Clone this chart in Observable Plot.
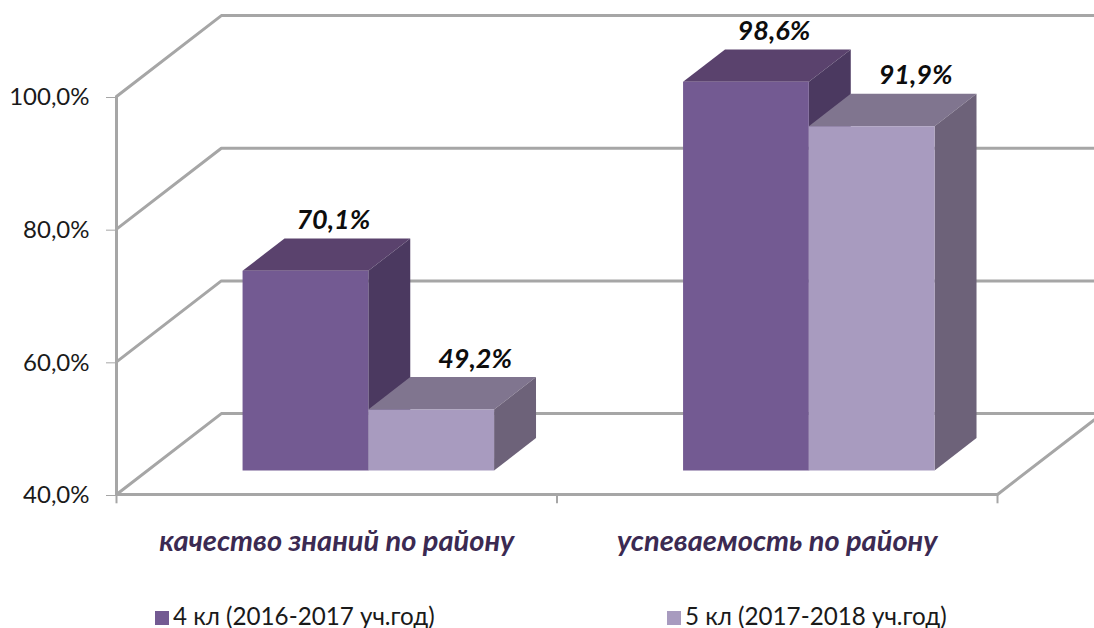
<!DOCTYPE html>
<html><head><meta charset="utf-8">
<script src="https://cdn.jsdelivr.net/npm/d3@7"></script>
<script src="https://cdn.jsdelivr.net/npm/@observablehq/plot@0.6"></script>
<style>
html,body{margin:0;padding:0;background:#fff;overflow:hidden}
#chart svg{display:block;overflow:visible}
#legend{position:relative;height:38px;font:24.2px Lato,sans-serif;color:#1a1a1a}
.k{position:absolute;top:12px;white-space:nowrap;line-height:28px}
.k i{display:inline-block;width:14px;height:14px;margin-right:4px;vertical-align:0}
</style></head><body>
<div id="chart"></div><div id="legend"></div>
<script>
const categories = ["качество знаний по району", "успеваемость по району"];
const seriesNames = ["4 кл (2016-2017 уч.год)", "5 кл (2017-2018 уч.год)"];
const values4 = [70.1, 98.6];
const values5 = [49.2, 91.9];
const yTicks = [40, 60, 80, 100];
const xEdges = [0, 1, 2];
const faceColors = [
  {front:"#735a92", top:"#5a426d", side:"#4b3960"},
  {front:"#a89bbf", top:"#80758f", side:"#6d6279"}
];

// oblique projection: depth 0 = front of chart box, 1 = back wall
const depthX = 0.238, depthY = 12.2;
const proj = (x, v, d) => ({x: x + d * depthX, y: v + d * depthY});
const xMax = 2.22;

const grid = [];
yTicks.forEach(t => {
  grid.push({t, ...proj(0, t, 0)}, {t, ...proj(0, t, 1)}, {t, x: xMax, y: t + depthY});
});
const floorRight = [proj(2, 40, 0), proj(2, 40, (xMax - 2) / depthX)];

const dNear = 0.297, dFar = 0.697;
const barW = 0.2855;
const bars = [];
categories.forEach((c, i) => {
  const start = i + 0.2155;
  [values4[i], values5[i]].forEach((v, s) => bars.push({c, s, v, x0: start + s * barW, x1: start + (s + 1) * barW}));
});
const poly = [];
bars.forEach((b, i) => {
  const col = faceColors[b.s];
  const top = [proj(b.x0, b.v, dNear), proj(b.x1, b.v, dNear), proj(b.x1, b.v, dFar), proj(b.x0, b.v, dFar)];
  const side = [proj(b.x1, b.v, dNear), proj(b.x1, 40, dNear), proj(b.x1, 40, dFar), proj(b.x1, b.v, dFar)];
  top.forEach(p => poly.push({...p, id: i + "t", fill: col.top}));
  side.forEach(p => poly.push({...p, id: i + "s", fill: col.side}));
  const fr = [proj(b.x0, b.v, dNear), proj(b.x1, b.v, dNear), proj(b.x1, 40, dNear), proj(b.x0, 40, dNear)];
  fr.forEach(p => poly.push({...p, id: i + "f", fill: col.front}));
});
const labels = bars.map(b => {
  const p = proj((b.x0 + b.x1) / 2, b.v, dFar);
  return {...p, s: b.s, text: b.v.toFixed(1).replace(".", ",") + "%"};
});
const labelStyle = {text: "text", dy: -18, fontSize: 27, fontWeight: "bold", fontStyle: "italic", fill: "#0d0d0d"};

const gray = "#a6a6a6";
const plot = Plot.plot({
  width: 1094, height: 590,
  marginLeft: 116, marginRight: 97, marginTop: 96, marginBottom: 96,
  x: {domain: [0, 2], range: [116, 997], axis: null, label: null},
  y: {domain: [40, 100], range: [494, 96], axis: null, label: null},
  style: {fontFamily: "Lato, sans-serif", background: "transparent", overflow: "visible"},
  marks: [
    Plot.line(grid, {x: "x", y: "y", z: "t", stroke: gray, strokeWidth: 3}),
    Plot.ruleX([0], {y1: 40, y2: 100, stroke: gray, strokeWidth: 3}),
    Plot.ruleY([40], {x1: 0, x2: 2, stroke: gray, strokeWidth: 3}),
    Plot.line(floorRight, {x: "x", y: "y", stroke: gray, strokeWidth: 3}),
    Plot.ruleX(xEdges, {y1: 38.6, y2: 40, stroke: gray, strokeWidth: 2}),
    Plot.axisY({ticks: yTicks, tickSize: 10, tickPadding: 17, stroke: gray, fontSize: 24, label: null, textStroke: "none", dy: 1,
      tickFormat: d => d.toFixed(1).replace(".", ",") + "%", color: "#1a1a1a", anchor: "left"}),
    Plot.axisX({ticks: [0.5, 1.5], tickSize: 0, tickPadding: 36, fontSize: 29, fontWeight: "bold", fontStyle: "italic", label: null,
      tickFormat: d => categories[Math.floor(d)], fill: "#3b2a52", anchor: "bottom"}),
    Plot.line(poly, {x: "x", y: "y", z: "id", fill: "fill", stroke: "none", curve: "linear-closed"}),
    Plot.text(labels.filter(d => d.s === 0), {x: "x", y: "y", dx: -14, ...labelStyle}),
    Plot.text(labels.filter(d => d.s === 1), {x: "x", y: "y", dx: 2, ...labelStyle})
  ]
});
document.getElementById("chart").append(plot);

const lg = document.getElementById("legend");
[[155, 0], [667, 1]].forEach(([left, s]) => {
  const d = document.createElement("div");
  d.className = "k"; d.style.left = left + "px";
  const sw = document.createElement("i"); sw.style.background = faceColors[s].front;
  d.append(sw, seriesNames[s]);
  lg.append(d);
});
</script></body></html>
